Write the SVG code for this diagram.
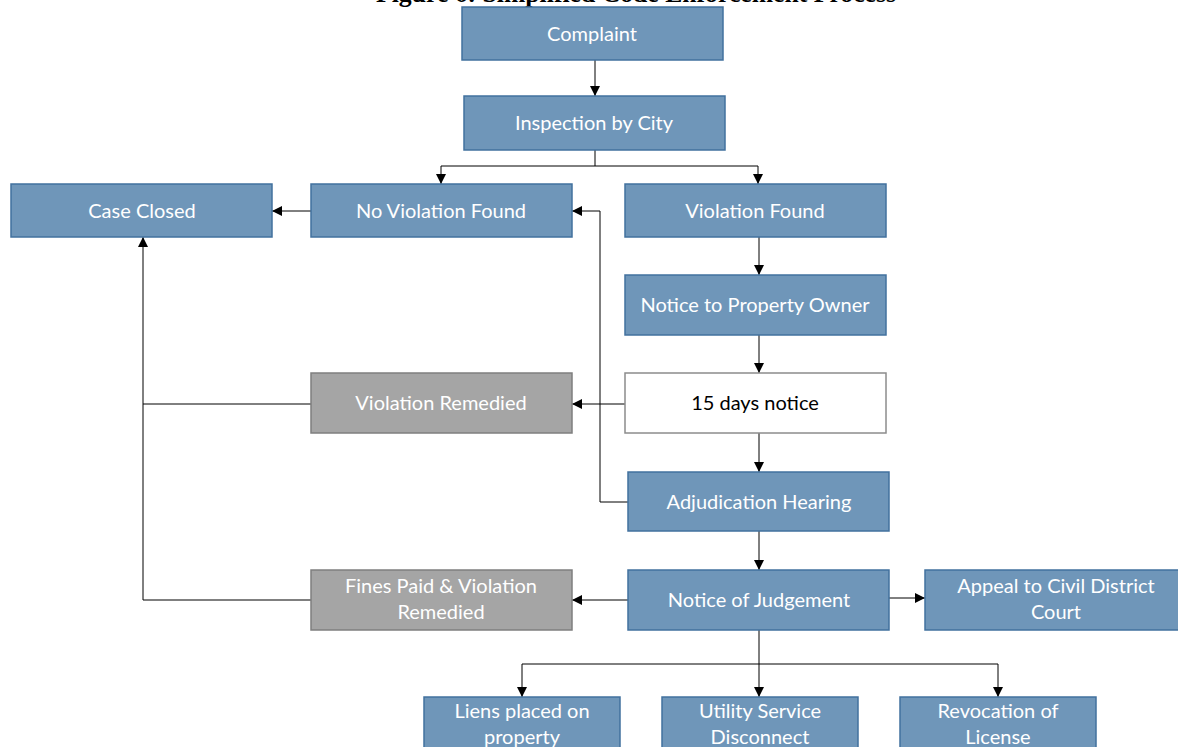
<svg xmlns="http://www.w3.org/2000/svg" width="1178" height="747" viewBox="0 0 1178 747">
<defs>
<marker id="ah" viewBox="0 0 10 10" refX="10" refY="5" markerWidth="10" markerHeight="10" markerUnits="userSpaceOnUse" orient="auto">
<path d="M0,0 L10,5 L0,10 z" fill="#000"/>
</marker>
<style>
.b{fill:#6f96b9;stroke:#42719e;stroke-width:1.5}
.g{fill:#a5a5a5;stroke:#7f7f7f;stroke-width:1.5}
.w{fill:#fff;stroke:#8c8c8c;stroke-width:1.5}
.t{font-family:Lato,"Liberation Sans",sans-serif;font-size:20px;fill:#fff;text-anchor:middle}
.tk{fill:#000}
.c{fill:none;stroke:#000;stroke-width:1}
.ttl{font-family:"Liberation Serif",serif;font-weight:bold;font-size:25px;fill:#000}
</style>
</defs>
<rect width="1178" height="747" fill="#fff"/>
<text class="ttl" x="376" y="1.5" textLength="520" lengthAdjust="spacingAndGlyphs">Figure 6: Simplified Code Enforcement Process</text>
<g id="connectors">
<path class="c" d="M595,60 V96" marker-end="url(#ah)"/>
<path class="c" d="M595,150 V166 H441 V184" marker-end="url(#ah)"/>
<path class="c" d="M595,166 H758 V184" marker-end="url(#ah)"/>
<path class="c" d="M311,211 H272" marker-end="url(#ah)"/>
<path class="c" d="M759,237 V275" marker-end="url(#ah)"/>
<path class="c" d="M759,335 V373" marker-end="url(#ah)"/>
<path class="c" d="M625,404 H572" marker-end="url(#ah)"/>
<path class="c" d="M759,433 V472" marker-end="url(#ah)"/>
<path class="c" d="M628,502 H600 V211 H572" marker-end="url(#ah)"/>
<path class="c" d="M311,404 H143"/>
<path class="c" d="M311,600 H143 V237" marker-end="url(#ah)"/>
<path class="c" d="M759,531 V570" marker-end="url(#ah)"/>
<path class="c" d="M628,600 H572" marker-end="url(#ah)"/>
<path class="c" d="M889,598 H925" marker-end="url(#ah)"/>
<path class="c" d="M759,630 V697" marker-end="url(#ah)"/>
<path class="c" d="M759,664 H522 V697" marker-end="url(#ah)"/>
<path class="c" d="M759,664 H998 V697" marker-end="url(#ah)"/>
</g>
<g id="complaint"><rect class="b" x="462" y="7" width="261" height="53"/><text class="t" x="592" y="41">Complaint</text></g>
<g id="inspection"><rect class="b" x="464" y="96" width="261" height="54"/><text class="t" x="594" y="130">Inspection by City</text></g>
<g id="case-closed"><rect class="b" x="11" y="184" width="261" height="53"/><text class="t" x="142" y="218">Case Closed</text></g>
<g id="no-violation"><rect class="b" x="311" y="184" width="261" height="53"/><text class="t" x="441" y="218">No Violation Found</text></g>
<g id="violation-found"><rect class="b" x="625" y="184" width="261" height="53"/><text class="t" x="755" y="218">Violation Found</text></g>
<g id="notice-owner"><rect class="b" x="625" y="275" width="261" height="60"/><text class="t" x="755" y="312">Notice to Property Owner</text></g>
<g id="violation-remedied"><rect class="g" x="311" y="373" width="261" height="60"/><text class="t" x="441" y="410">Violation Remedied</text></g>
<g id="fifteen-days"><rect class="w" x="625" y="373" width="261" height="60"/><text class="t tk" x="755" y="410">15 days notice</text></g>
<g id="adjudication"><rect class="b" x="628" y="472" width="261" height="59"/><text class="t" x="759" y="509">Adjudication Hearing</text></g>
<g id="fines-paid"><rect class="g" x="311" y="570" width="261" height="60"/><text class="t" x="441" y="593">Fines Paid &amp; Violation</text><text class="t" x="441" y="619">Remedied</text></g>
<g id="notice-judgement"><rect class="b" x="628" y="570" width="261" height="60"/><text class="t" x="759" y="607">Notice of Judgement</text></g>
<g id="appeal"><rect class="b" x="925" y="570" width="261" height="60"/><text class="t" x="1056" y="593">Appeal to Civil District</text><text class="t" x="1056" y="619">Court</text></g>
<g id="liens"><rect class="b" x="424" y="697" width="196" height="60"/><text class="t" x="522" y="718">Liens placed on</text><text class="t" x="522" y="744">property</text></g>
<g id="utility"><rect class="b" x="662" y="697" width="196" height="60"/><text class="t" x="760" y="718">Utility Service</text><text class="t" x="760" y="744">Disconnect</text></g>
<g id="revocation"><rect class="b" x="900" y="697" width="196" height="60"/><text class="t" x="998" y="718">Revocation of</text><text class="t" x="998" y="744">License</text></g>
</svg>
